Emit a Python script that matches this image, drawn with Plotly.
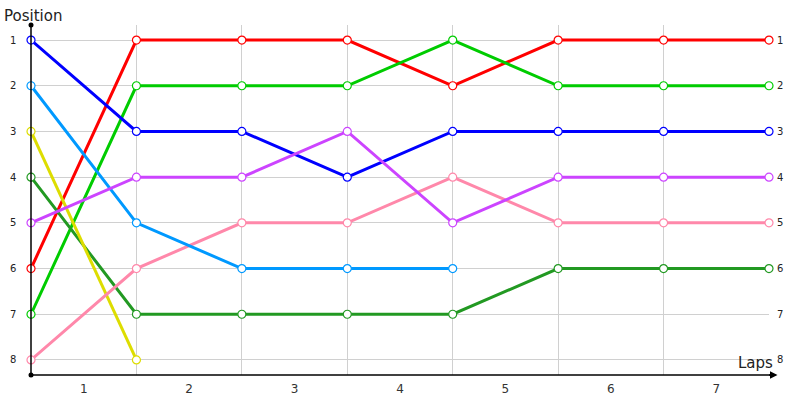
import plotly.graph_objects as go

laps = [0, 1, 2, 3, 4, 5, 6, 7]
lap_labels = ["1", "2", "3", "4", "5", "6", "7"]
positions = [1, 2, 3, 4, 5, 6, 7, 8]

red = [6, 1, 1, 1, 2, 1, 1, 1]
green = [7, 2, 2, 2, 1, 2, 2, 2]
dark_green = [4, 7, 7, 7, 7, 6, 6, 6]
yellow = [3, 8]
pink = [8, 6, 5, 5, 4, 5, 5, 5]
blue = [1, 3, 3, 4, 3, 3, 3, 3]
light_blue = [2, 5, 6, 6, 6]
purple = [5, 4, 4, 3, 5, 4, 4, 4]

series = [
    (red, "#ff0000"),
    (green, "#00cc00"),
    (dark_green, "#229922"),
    (yellow, "#dddd00"),
    (pink, "#ff88aa"),
    (blue, "#0000ff"),
    (light_blue, "#0099ff"),
    (purple, "#cc44ff"),
]

FONT = "DejaVu Sans"
fig = go.Figure()
for vals, col in series:
    fig.add_trace(go.Scatter(
        x=laps[:len(vals)], y=vals, mode="lines+markers",
        line=dict(color=col, width=3),
        marker=dict(symbol="circle", size=8, color="white",
                    line=dict(color=col, width=1.2)),
        cliponaxis=False, showlegend=False, hoverinfo="skip",
    ))

# axis end dots
fig.add_trace(go.Scatter(x=[0, 0], y=[8.33, 0.67], mode="markers",
                         marker=dict(color="black", size=5),
                         cliponaxis=False, showlegend=False, hoverinfo="skip"))

fig.update_layout(
    width=800, height=400,
    margin=dict(l=31, r=31, t=25, b=25, autoexpand=False),
    plot_bgcolor="white", paper_bgcolor="white",
    font=dict(family=FONT, color="#222"),
    xaxis=dict(range=[0, 7], tickvals=[i + 0.5 for i in range(7)],
               ticktext=lap_labels, showgrid=False, zeroline=False,
               ticks="", tickfont=dict(size=12, color="#333"),
               ticklabelstandoff=5,
               minor=dict(tickvals=laps[1:], showgrid=True,
                          gridcolor="#d0d0d0", gridwidth=1, ticks=""),
               showline=False, fixedrange=True, automargin=False),
    yaxis=dict(range=[8.33, 0.67], tickvals=positions, showgrid=True,
               gridcolor="#d0d0d0", gridwidth=1, zeroline=False,
               ticks="", showticklabels=False,
               showline=False, fixedrange=True, automargin=False),
)

# left and right tick labels
for p in positions:
    fig.add_annotation(x=0.0, xref="paper", y=p, yref="y", text=str(p),
                       showarrow=False, xanchor="right", xshift=-13,
                       font=dict(size=10, color="#222", family=FONT))
    fig.add_annotation(x=1.0, xref="paper", y=p, yref="y", text=str(p),
                       showarrow=False, xanchor="left", xshift=6,
                       font=dict(size=10, color="#222", family=FONT))

# axis lines
fig.add_shape(type="line", xref="paper", yref="paper", x0=0, x1=0, y0=0, y1=1,
              line=dict(color="black", width=1.5))
fig.add_shape(type="line", xref="paper", yref="paper", x0=0, x1=1.006, y0=0, y1=0,
              line=dict(color="black", width=1.5))
fig.add_annotation(x=1.0115, y=0, xref="paper", yref="paper", ax=-10, ay=0,
                   axref="pixel", ayref="pixel", text="", showarrow=True,
                   arrowhead=2, arrowsize=1, arrowwidth=1.5, arrowcolor="black")

fig.add_annotation(x=0, y=1, xref="paper", yref="paper", text="Position",
                   showarrow=False, xanchor="left", yanchor="bottom",
                   xshift=-29, yshift=-2, font=dict(size=15, color="#222", family=FONT))
fig.add_annotation(x=1, y=0, xref="paper", yref="paper", text="Laps",
                   showarrow=False, xanchor="right", yanchor="bottom",
                   xshift=6, yshift=1, font=dict(size=15, color="#222", family=FONT))

fig.write_html("out.html", config={"displayModeBar": False},
               post_script="document.body.style.margin='0';")
